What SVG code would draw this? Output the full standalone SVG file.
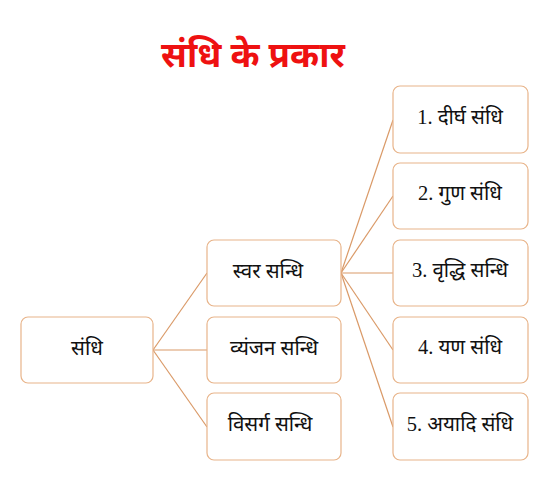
<svg xmlns="http://www.w3.org/2000/svg" width="560" height="482" viewBox="0 0 560 482">
<style>
.box{fill:#ffffff;stroke:#E8B48A;stroke-width:1.2}
.lbl{font-family:"Liberation Serif","Noto Sans",serif;font-size:20.5px;fill:#111;text-anchor:middle;dominant-baseline:central}
.ttl{font-family:"Noto Sans","Liberation Sans",sans-serif;font-size:35px;font-weight:bold;fill:#EE1111;text-anchor:middle}
.con{stroke:#DA9A68;stroke-width:1.2;fill:none}
</style>
<rect width="560" height="482" fill="#ffffff"/>
<text class="ttl" x="253" y="67">संधि के प्रकार</text>
<g id="connectors">
<line class="con" x1="153" y1="350" x2="207" y2="273"/>
<line class="con" x1="153" y1="350" x2="207" y2="350"/>
<line class="con" x1="153" y1="350" x2="207" y2="427"/>
<line class="con" x1="341" y1="273" x2="393" y2="120"/>
<line class="con" x1="341" y1="273" x2="393" y2="196"/>
<line class="con" x1="341" y1="273" x2="393" y2="273"/>
<line class="con" x1="341" y1="273" x2="393" y2="350"/>
<line class="con" x1="341" y1="273" x2="393" y2="427"/>
</g>
<g id="n-sandhi"><rect class="box" x="21" y="317" width="132" height="66" rx="7"/><text class="lbl" x="87" y="348">संधि</text></g>
<g id="n-swar"><rect class="box" x="207" y="240" width="134" height="66" rx="7"/><text class="lbl" x="268" y="271">स्वर सन्धि</text></g>
<g id="n-vyanjan"><rect class="box" x="207" y="317" width="134" height="66" rx="7"/><text class="lbl" x="274" y="348">व्यंजन सन्धि</text></g>
<g id="n-visarg"><rect class="box" x="207" y="393" width="134" height="67" rx="7"/><text class="lbl" x="270" y="424">विसर्ग सन्धि</text></g>
<g id="n-dirgh"><rect class="box" x="393" y="86" width="135" height="67" rx="7"/><text class="lbl" x="460" y="117">1. दीर्घ संधि</text></g>
<g id="n-gun"><rect class="box" x="393" y="163" width="135" height="66" rx="7"/><text class="lbl" x="460" y="193">2. गुण संधि</text></g>
<g id="n-vriddhi"><rect class="box" x="393" y="240" width="135" height="66" rx="7"/><text class="lbl" x="460" y="270">3. वृद्धि सन्धि</text></g>
<g id="n-yan"><rect class="box" x="393" y="317" width="135" height="66" rx="7"/><text class="lbl" x="460" y="347">4. यण संधि</text></g>
<g id="n-ayadi"><rect class="box" x="393" y="393" width="135" height="67" rx="7"/><text class="lbl" x="460" y="424">5. अयादि संधि</text></g>
</svg>
